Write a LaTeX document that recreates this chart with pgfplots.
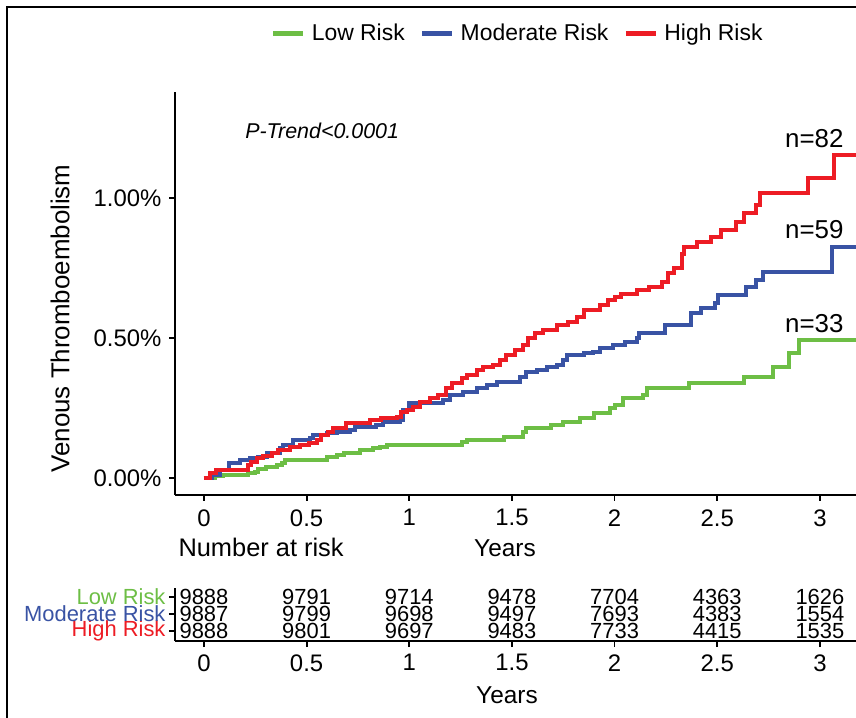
\documentclass[border=0pt]{standalone}
\usepackage{pgfplots}
\pgfplotsset{compat=1.18}
\usepackage{fontspec}
\setmainfont{Liberation Sans}
\definecolor{lowc}{RGB}{109,190,69}
\definecolor{modc}{RGB}{57,83,164}
\definecolor{highc}{RGB}{237,28,36}
\begin{document}
\begin{tikzpicture}
\useasboundingbox (0,0) rectangle (856bp,718bp);
\clip (0,0) rectangle (856bp,718bp);
\draw[line width=2bp] (7bp,0) -- (7bp,711bp) -- (860bp,711bp);
\begin{axis}[
  at={(175bp,223bp)}, anchor=south west,
  width=706.5bp, height=403bp, scale only axis,
  xmin=-0.141, xmax=3.3, ymin=-0.0607, ymax=1.3786,
  axis lines=left, axis line style={line width=1.8bp,-},
  xtick={0,0.5,1,1.5,2,2.5,3}, xticklabels={0,0.5,1,1.5,2,2.5,3},
  ytick={0,0.5,1}, yticklabels={0.00\%,0.50\%,1.00\%},
  tick align=outside, major tick length=6bp,
  tick style={line width=1.8bp,black},
  tick label style={font=\fontsize{24}{28}\selectfont, black},
  xticklabel style={yshift=-5bp},
  yticklabel style={xshift=-4bp},
  legend columns=3,
  legend style={at={(0.485,1.146)}, anchor=center, draw=none, fill=none,
    font=\fontsize{23}{26}\selectfont,
    /tikz/every odd column/.append style={column sep=4bp},
    /tikz/every even column/.append style={column sep=13bp}},
  legend image code/.code={\draw[#1, line width=5bp] (0bp,0bp) -- (30bp,0bp);},
  clip=true,
]
\addplot[const plot mark left, color=lowc, line width=4bp] coordinates {
(0,0) (0.054,0.006) (0.094,0.011) (0.216,0.017) (0.25,0.023) (0.265,0.031) (0.3,0.04) (0.354,0.046) (0.38,0.055) (0.395,0.064) (0.60,0.076) (0.646,0.082) (0.68,0.088) (0.76,0.10) (0.825,0.106) (0.857,0.112) (0.89,0.118) (1.255,0.13) (1.28,0.136) (1.46,0.148) (1.555,0.165) (1.57,0.177) (1.69,0.189) (1.75,0.201) (1.83,0.213) (1.9,0.231) (1.98,0.249) (2.0,0.261) (2.04,0.285) (2.14,0.296) (2.157,0.32) (2.36,0.338) (2.63,0.362) (2.77,0.398) (2.85,0.445) (2.90,0.493) (3.25,0.493)};
\addlegendentry{Low Risk}
\addplot[const plot mark left, color=modc, line width=4bp] coordinates {
(0,0) (0.037,0.012) (0.078,0.029) (0.12,0.052) (0.175,0.064) (0.224,0.07) (0.265,0.076) (0.305,0.088) (0.37,0.106) (0.386,0.118) (0.435,0.136) (0.516,0.142) (0.53,0.154) (0.60,0.16) (0.646,0.165) (0.71,0.171) (0.735,0.183) (0.84,0.189) (0.873,0.201) (0.955,0.207) (0.97,0.243) (1.0,0.267) (1.166,0.279) (1.2,0.296) (1.26,0.308) (1.33,0.32) (1.377,0.332) (1.426,0.344) (1.54,0.362) (1.57,0.38) (1.62,0.386) (1.67,0.398) (1.72,0.404) (1.75,0.421) (1.767,0.439) (1.85,0.445) (1.896,0.451) (1.93,0.463) (1.99,0.475) (2.05,0.487) (2.11,0.499) (2.12,0.517) (2.245,0.546) (2.37,0.588) (2.42,0.606) (2.49,0.624) (2.505,0.654) (2.64,0.683) (2.69,0.707) (2.725,0.737) (3.06,0.826) (3.25,0.826)};
\addlegendentry{Moderate Risk}
\addplot[const plot mark left, color=highc, line width=4bp] coordinates {
(0,0) (0.03,0.017) (0.06,0.029) (0.216,0.046) (0.23,0.058) (0.257,0.070) (0.29,0.079) (0.33,0.088) (0.36,0.10) (0.42,0.112) (0.47,0.118) (0.51,0.124) (0.55,0.136) (0.57,0.154) (0.605,0.165) (0.63,0.177) (0.69,0.195) (0.81,0.207) (0.86,0.213) (0.94,0.219) (0.96,0.237) (0.987,0.243) (1.02,0.255) (1.05,0.273) (1.10,0.285) (1.14,0.296) (1.18,0.32) (1.21,0.338) (1.255,0.356) (1.28,0.368) (1.33,0.386) (1.36,0.398) (1.41,0.404) (1.44,0.421) (1.47,0.439) (1.515,0.457) (1.555,0.475) (1.58,0.499) (1.61,0.517) (1.65,0.529) (1.72,0.546) (1.775,0.558) (1.815,0.576) (1.85,0.60) (1.93,0.618) (1.97,0.636) (2.0,0.648) (2.03,0.657) (2.11,0.671) (2.17,0.683) (2.23,0.701) (2.26,0.732) (2.29,0.75) (2.33,0.80) (2.34,0.826) (2.40,0.844) (2.47,0.862) (2.52,0.886) (2.59,0.916) (2.63,0.945) (2.69,0.975) (2.71,1.017) (2.94,1.07) (3.07,1.154) (3.25,1.154)};
\addlegendentry{High Risk}
\node[anchor=base west, font=\fontsize{21.5}{25}\itshape] at (axis cs:0.184,1.213) {P-Trend<0.0001};
\node[anchor=base east, font=\fontsize{26}{30}\selectfont] at (axis cs:3.132,1.182) {n=82};
\node[anchor=base east, font=\fontsize{26}{30}\selectfont] at (axis cs:3.132,0.857) {n=59};
\node[anchor=base east, font=\fontsize{26}{30}\selectfont] at (axis cs:3.132,0.521) {n=33};
\end{axis}
\begin{axis}[
  at={(175bp,77bp)}, anchor=south west,
  width=706.5bp, height=53bp, scale only axis,
  xmin=-0.141, xmax=3.3, ymin=0.41, ymax=3.53,
  axis lines=left, axis line style={line width=1.8bp,-},
  xtick={0,0.5,1,1.5,2,2.5,3}, xticklabels={0,0.5,1,1.5,2,2.5,3},
  ytick={1,2,3},
  yticklabels={\textcolor{highc}{High Risk},\textcolor{modc}{Moderate Risk},\textcolor{lowc}{Low Risk}},
  tick align=outside, major tick length=6bp,
  tick style={line width=1.8bp,black},
  xticklabel style={font=\fontsize{24}{28}\selectfont, black, yshift=-4bp},
  yticklabel style={font=\fontsize{22}{26}\selectfont},
  clip=false,
]
\addplot[only marks, mark=none, nodes near coords, point meta=explicit symbolic,
  nodes near coords align=center,
  every node near coord/.append style={font=\fontsize{22}{26}\selectfont, black, inner sep=0pt, anchor=center}] coordinates {
(0,3) [9888] (0.5,3) [9791] (1,3) [9714] (1.5,3) [9478] (2,3) [7704] (2.5,3) [4363] (3,3) [1626]
(0,2) [9887] (0.5,2) [9799] (1,2) [9698] (1.5,2) [9497] (2,2) [7693] (2.5,2) [4383] (3,2) [1554]
(0,1) [9888] (0.5,1) [9801] (1,1) [9697] (1.5,1) [9483] (2,1) [7733] (2.5,1) [4415] (3,1) [1535]
};
\end{axis}
\node[anchor=base, font=\fontsize{24.5}{28}\selectfont] at (505bp,161bp) {Years};
\node[anchor=base west, font=\fontsize{25.5}{30}\selectfont] at (175bp,161bp) {Number at risk};
\node[anchor=base, font=\fontsize{24.5}{28}\selectfont] at (507bp,15bp) {Years};
\node[rotate=90, font=\fontsize{26}{30}\selectfont] at (60bp,399.5bp) {Venous Thromboembolism};
\end{tikzpicture}
\end{document}
